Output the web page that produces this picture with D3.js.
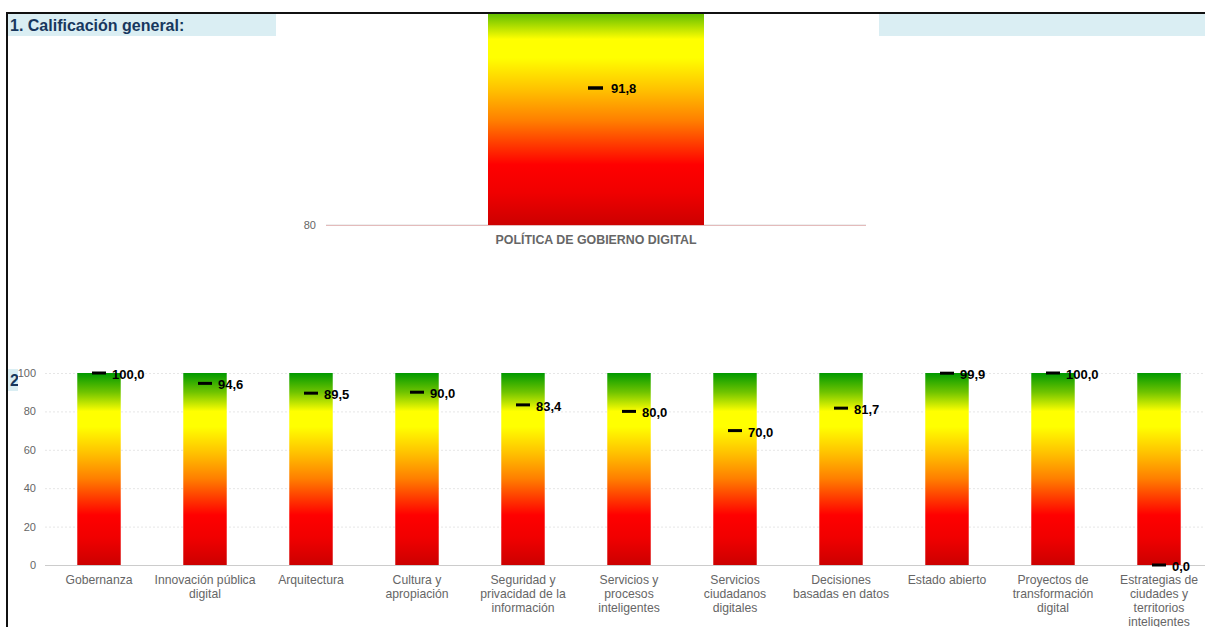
<!DOCTYPE html>
<html>
<head>
<meta charset="utf-8">
<script src="https://cdn.jsdelivr.net/npm/d3@7/dist/d3.min.js"></script>
<style>
  body { margin: 0; background: #fff; }
  svg { display: block; font-family: "Liberation Sans", Arial, sans-serif; }
</style>
</head>
<body>
<svg id="page" width="1205" height="627"></svg>
<script>
// ---- data ----
var generalCategories = ["POLÍTICA DE GOBIERNO DIGITAL"];
var generalValues = [91.8];
var generalTicks = [80];

var domainCategories = [
  "Gobernanza", "Innovación pública digital", "Arquitectura", "Cultura y apropiación",
  "Seguridad y privacidad de la información", "Servicios y procesos inteligentes",
  "Servicios ciudadanos digitales", "Decisiones basadas en datos", "Estado abierto",
  "Proyectos de transformación digital", "Estrategias de ciudades y territorios inteligentes"
];
var domainLabelLines = [
  ["Gobernanza"], ["Innovación pública", "digital"], ["Arquitectura"], ["Cultura y", "apropiación"],
  ["Seguridad y", "privacidad de la", "información"], ["Servicios y", "procesos", "inteligentes"],
  ["Servicios", "ciudadanos", "digitales"], ["Decisiones", "basadas en datos"], ["Estado abierto"],
  ["Proyectos de", "transformación", "digital"], ["Estrategias de", "ciudades y", "territorios", "inteligentes"]
];
var domainValues = [100.0, 94.6, 89.5, 90.0, 83.4, 80.0, 70.0, 81.7, 99.9, 100.0, 0.0];
var domainTicks = [0, 20, 40, 60, 80, 100];

var fmt = function(v) { return v.toFixed(1).replace(".", ","); };

var svg = d3.select("#page");
var defs = svg.append("defs");

// gradient green -> yellow -> orange -> red, relative to each bar
var grad = defs.append("linearGradient").attr("id", "traffic")
    .attr("x1", 0).attr("y1", 0).attr("x2", 0).attr("y2", 1);
[[0, "#009900"], [0.1, "#70c400"], [0.2, "#ffff00"], [0.28, "#ffff00"],
 [0.42, "#ffc000"], [0.55, "#ff7f00"], [0.74, "#ff0000"], [0.86, "#f00000"], [1, "#cc0000"]]
  .forEach(function(s) {
    grad.append("stop").attr("offset", s[0]).attr("stop-color", s[1]);
  });

defs.append("clipPath").attr("id", "clipTop")
  .append("rect").attr("x", 0).attr("y", 14).attr("width", 1205).attr("height", 613);
defs.append("clipPath").attr("id", "clipHead2")
  .append("rect").attr("x", 0).attr("y", 360).attr("width", 18).attr("height", 40);

// ---- header bands ----
svg.append("rect").attr("x", 8).attr("y", 14).attr("width", 1197).attr("height", 22).attr("fill", "#daeef3");
svg.append("text").attr("x", 10).attr("y", 31)
   .attr("font-size", 16).attr("font-weight", "bold").attr("fill", "#17375e")
   .text("1. Calificación general:");

var head2 = svg.append("g").attr("clip-path", "url(#clipHead2)");
head2.append("rect").attr("x", 8).attr("y", 369).attr("width", 10).attr("height", 22).attr("fill", "#daeef3");
head2.append("text").attr("x", 10).attr("y", 386)
   .attr("font-size", 16).attr("font-weight", "bold").attr("fill", "#17375e")
   .text("2");

/**************************** TOP CHART ******************/
var top_g = svg.append("g").attr("clip-path", "url(#clipTop)");
top_g.append("rect").attr("x", 276).attr("y", 0).attr("width", 603).attr("height", 300).attr("fill", "#fff");

var xTop = d3.scaleBand().domain(generalCategories).range([326, 866]).paddingInner(0.6).paddingOuter(0.3);
var yTop = d3.scaleLinear().domain([80, 100]).range([225, -7.2]);

top_g.selectAll("line.grid").data(generalTicks).enter().append("line")
  .attr("x1", 326).attr("x2", 866)
  .attr("y1", function(d) { return yTop(d); }).attr("y2", function(d) { return yTop(d); })
  .attr("stroke", "#dcdcdc");

top_g.selectAll("text.ytick").data(generalTicks).enter().append("text")
  .attr("x", 316).attr("y", function(d) { return yTop(d) + 4; })
  .attr("text-anchor", "end").attr("font-size", 11).attr("fill", "#666").text(function(d) { return d; });

top_g.selectAll("rect.bar").data(generalCategories).enter().append("rect")
  .attr("x", function(d) { return xTop(d); }).attr("width", xTop.bandwidth())
  .attr("y", yTop(100)).attr("height", yTop(80) - yTop(100))
  .attr("fill", "url(#traffic)");

top_g.append("line").attr("x1", 326).attr("x2", 866).attr("y1", 225.5).attr("y2", 225.5)
  .attr("stroke", "#dd9999").attr("stroke-opacity", 0.6);

top_g.selectAll("text.xlab").data(generalCategories).enter().append("text")
  .attr("x", function(d) { return xTop(d) + xTop.bandwidth() / 2; }).attr("y", 244)
  .attr("text-anchor", "middle").attr("font-size", 12.4).attr("font-weight", "bold").attr("fill", "#666")
  .text(function(d) { return d; });

generalValues.forEach(function(v, i) {
  var cx = xTop(generalCategories[i]) + xTop.bandwidth() / 2;
  top_g.append("line").attr("x1", cx - 8).attr("x2", cx + 7)
    .attr("y1", yTop(v)).attr("y2", yTop(v)).attr("stroke", "#000").attr("stroke-width", 3.5);
  top_g.append("text").attr("x", cx + 15).attr("y", yTop(v) + 5)
    .attr("font-size", 13).attr("font-weight", "bold").attr("fill", "#000").text(fmt(v));
});

/**************************** BOTTOM CHART ******************/
var bot = svg.append("g");
bot.append("rect").attr("x", 18).attr("y", 300).attr("width", 1187).attr("height", 327).attr("fill", "#fff");

var xBot = d3.scaleBand().domain(domainCategories).range([46, 1212]).paddingInner(0.59).paddingOuter(0.295);
var yBot = d3.scaleLinear().domain([0, 100]).range([565, 373]);

bot.selectAll("line.grid").data(domainTicks.slice(1)).enter().append("line")
  .attr("x1", 45).attr("x2", 1205)
  .attr("y1", function(d) { return yBot(d) + 0.5; }).attr("y2", function(d) { return yBot(d) + 0.5; })
  .attr("stroke", "#e6e6e6").attr("stroke-dasharray", "2,2");

bot.selectAll("text.ytick").data(domainTicks).enter().append("text")
  .attr("x", 36).attr("y", function(d) { return yBot(d) + 4; })
  .attr("text-anchor", "end").attr("font-size", 11).attr("fill", "#666").text(function(d) { return d; });

bot.selectAll("rect.bar").data(domainCategories).enter().append("rect")
  .attr("x", function(d) { return xBot(d); }).attr("width", xBot.bandwidth())
  .attr("y", yBot(100)).attr("height", yBot(0) - yBot(100))
  .attr("fill", "url(#traffic)");

bot.append("line").attr("x1", 45).attr("x2", 1205).attr("y1", 565.5).attr("y2", 565.5)
  .attr("stroke", "#cccccc");

bot.selectAll("text.xlab").data(domainCategories).enter().append("text")
  .attr("text-anchor", "middle").attr("font-size", 12.2).attr("fill", "#666")
  .attr("transform", function(d) { return "translate(" + (xBot(d) + xBot.bandwidth() / 2) + ",584)"; })
  .each(function(d, i) {
    var t = d3.select(this);
    domainLabelLines[i].forEach(function(line, j) {
      t.append("tspan").attr("x", 0).attr("y", j * 14).text(line);
    });
  });

domainValues.forEach(function(v, i) {
  var cx = xBot(domainCategories[i]) + xBot.bandwidth() / 2;
  bot.append("line").attr("x1", cx - 7).attr("x2", cx + 7)
    .attr("y1", yBot(v)).attr("y2", yBot(v)).attr("stroke", "#000").attr("stroke-width", 3);
  bot.append("text").attr("x", cx + 13).attr("y", yBot(v) + 6)
    .attr("font-size", 13).attr("font-weight", "bold").attr("fill", "#000").text(fmt(v));
});

// ---- frame ----
svg.append("line").attr("x1", 6).attr("x2", 1205).attr("y1", 13).attr("y2", 13).attr("stroke", "#111").attr("stroke-width", 2);
svg.append("line").attr("x1", 7).attr("x2", 7).attr("y1", 12).attr("y2", 627).attr("stroke", "#111").attr("stroke-width", 2);
</script>
</body>
</html>
